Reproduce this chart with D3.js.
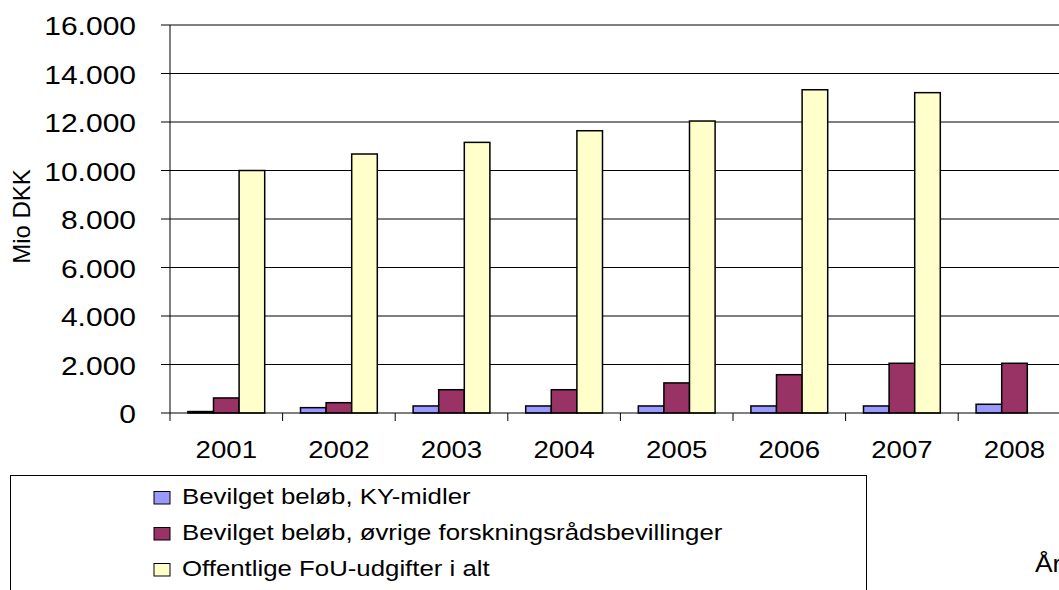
<!DOCTYPE html>
<html>
<head>
<meta charset="utf-8">
<script src="https://cdn.jsdelivr.net/npm/d3@7"></script>
<style>
  html, body { margin: 0; padding: 0; background: #fff; overflow: hidden; }
  text { font-family: "Liberation Sans", Arial, sans-serif; fill: #000; }
</style>
</head>
<body>
<svg id="chart" width="1059" height="590"></svg>
<script>
const years = ["2001","2002","2003","2004","2005","2006","2007","2008"];
const seriesNames = [
  "Bevilget beløb, KY-midler",
  "Bevilget beløb, øvrige forskningsrådsbevillinger",
  "Offentlige FoU-udgifter i alt"
];
const kyMidler   = [60, 220, 290, 290, 290, 290, 290, 360];
const ovrige     = [620, 425, 960, 960, 1240, 1580, 2050, 2050];
const offentlige = [10000, 10680, 11160, 11640, 12040, 13330, 13210, null];
const yTicks = [0, 2000, 4000, 6000, 8000, 10000, 12000, 14000, 16000];
const colors = ["#9999FF", "#993366", "#FFFFCC"];
const yTitle = "Mio DKK";
const xTitle = "År";

(function () {
const seriesValues = [kyMidler, ovrige, offentlige];

const svg = d3.select("#chart");
const plotLeft = 170, plotTop = 25, plotBottom = 413;
const band = 112.6;
const SX = 1.2;

const x = d3.scaleBand().domain(years).range([plotLeft, plotLeft + band * years.length]).padding(0);
const inner = d3.scaleBand().domain(d3.range(3)).range([17.9, band - 17.9]).padding(0);
const y = d3.scaleLinear().domain([0, 16000]).range([plotBottom, plotTop]);

const dk = d3.formatLocale({decimal: ",", thousands: ".", grouping: [3], currency: ["", ""]});
const fmt = dk.format(",");

// gridlines
svg.append("g").selectAll("line").data(yTicks.filter(d => d > 0)).join("line")
  .attr("x1", plotLeft - 9).attr("x2", 1059)
  .attr("y1", d => y(d)).attr("y2", d => y(d))
  .attr("stroke", "#000").attr("stroke-width", 1);

// y axis line
svg.append("line").attr("x1", plotLeft).attr("x2", plotLeft).attr("y1", y(16000)).attr("y2", plotBottom)
  .attr("stroke", "#000").attr("stroke-width", 1);

// y tick labels
svg.append("g").selectAll("text").data(yTicks).join("text")
  .attr("transform", d => `translate(136,${y(d) + 10}) scale(${SX},1)`)
  .attr("text-anchor", "end")
  .style("font-size", "25px")
  .text(d => fmt(d));

// bars
const groups = svg.append("g").selectAll("g").data(years).join("g")
  .attr("transform", d => `translate(${x(d)},0)`);
groups.selectAll("rect")
  .data((yr, i) => seriesValues.map((vals, s) => ({s, v: vals[i]})).filter(d => d.v != null))
  .join("rect")
  .attr("x", d => inner(d.s))
  .attr("width", inner.bandwidth())
  .attr("y", d => y(d.v))
  .attr("height", d => plotBottom - y(d.v))
  .attr("fill", d => colors[d.s])
  .attr("stroke", "#000").attr("stroke-width", 1.5);

// x axis line
svg.append("line").attr("x1", plotLeft - 9).attr("x2", 1059).attr("y1", plotBottom).attr("y2", plotBottom)
  .attr("stroke", "#000").attr("stroke-width", 1);
// x tick marks at band boundaries
svg.append("g").selectAll("line").data(years.concat(["end"])).join("line")
  .attr("x1", (d, i) => plotLeft + i * x.bandwidth()).attr("x2", (d, i) => plotLeft + i * x.bandwidth())
  .attr("y1", plotBottom).attr("y2", plotBottom + 8)
  .attr("stroke", "#000").attr("stroke-width", 1);

// x labels
svg.append("g").selectAll("text").data(years).join("text")
  .attr("transform", d => `translate(${x(d) + x.bandwidth() / 2},458) scale(1.15,1)`)
  .attr("text-anchor", "middle")
  .style("font-size", "24px")
  .text(d => d);

// y title
svg.append("text")
  .attr("transform", "translate(30,216.5) rotate(-90)")
  .attr("text-anchor", "middle")
  .style("font-size", "24px")
  .text(yTitle);

// x title (cut off at right)
svg.append("text")
  .attr("transform", "translate(1035,572) scale(1.1,1)")
  .style("font-size", "24px")
  .text(xTitle);

// legend
const lg = svg.append("g");
lg.append("rect").attr("x", 10.5).attr("y", 475.5).attr("width", 856).attr("height", 140)
  .attr("fill", "#fff").attr("stroke", "#000").attr("stroke-width", 1);
const rows = lg.selectAll("g.row").data(seriesNames).join("g").attr("class", "row")
  .attr("transform", (d, i) => `translate(0,${504 + i * 36})`);
rows.append("rect").attr("x", 154).attr("y", -12.5).attr("width", 16).attr("height", 12.5)
  .attr("fill", (d, i) => colors[i]).attr("stroke", "#000").attr("stroke-width", 1);
rows.append("text")
  .attr("transform", `translate(182,0) scale(${SX},1)`)
  .style("font-size", "21.5px")
  .text(d => d);
})();
</script>
</body>
</html>
